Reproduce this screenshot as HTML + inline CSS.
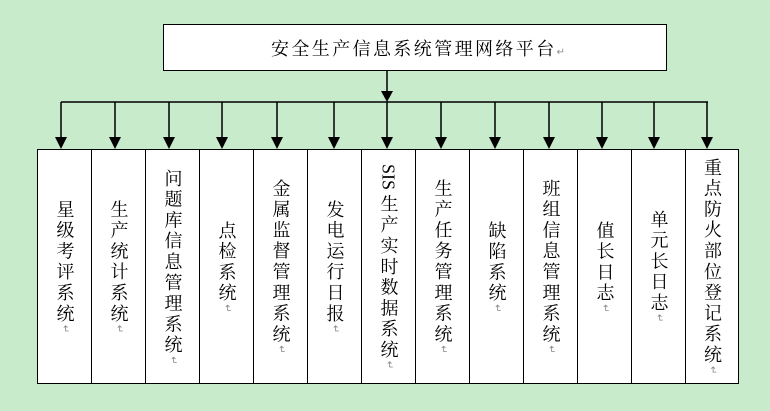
<!DOCTYPE html>
<html><head><meta charset="utf-8"><style>
html,body{margin:0;padding:0;}
body{width:770px;height:411px;background:#c8ebcc;position:relative;overflow:hidden;font-family:"Liberation Serif","Noto Serif CJK SC","Noto Sans CJK SC",serif;}
.top{position:absolute;left:163px;top:24px;width:502px;height:45px;border:1.5px solid #000;background:#fff;box-sizing:content-box;}
.top .t{position:absolute;left:107px;top:10px;font-size:18px;letter-spacing:2.4px;color:#000;white-space:nowrap;}
.m{color:#888;font-size:10px;letter-spacing:0;}
.col{position:absolute;top:149px;height:233px;width:53px;border:1.5px solid #000;border-right:none;background:#fff;display:flex;align-items:center;justify-content:center;}
.col.last{border-right:1.5px solid #000;}
.col div{writing-mode:vertical-rl;font-size:18px;letter-spacing:2.8px;line-height:20px;color:#000;}
.s{letter-spacing:0;}
svg{position:absolute;left:0;top:0;}
</style></head><body>
<div class="top"><span class="t">安全生产信息系统管理网络平台<span class="m">↵</span></span></div>
<svg width="770" height="411">
<g stroke="#000" stroke-width="1.5" fill="#000">
<line x1="387" y1="71" x2="387" y2="92"/>
<line x1="61" y1="102" x2="708" y2="102"/>
</g>
</svg>
<div class="col" style="left:37px"><div>星级考评系统<span class="m">↵</span></div></div>
<div class="col" style="left:91px"><div>生产统计系统<span class="m">↵</span></div></div>
<div class="col" style="left:145px"><div>问题库信息管理系统<span class="m">↵</span></div></div>
<div class="col" style="left:199px"><div>点检系统<span class="m">↵</span></div></div>
<div class="col" style="left:253px"><div>金属监督管理系统<span class="m">↵</span></div></div>
<div class="col" style="left:307px"><div>发电运行日报<span class="m">↵</span></div></div>
<div class="col" style="left:361px"><div><span class="s">SIS </span>生产实时数据系统<span class="m">↵</span></div></div>
<div class="col" style="left:415px"><div>生产任务管理系统<span class="m">↵</span></div></div>
<div class="col" style="left:469px"><div>缺陷系统<span class="m">↵</span></div></div>
<div class="col" style="left:523px"><div>班组信息管理系统<span class="m">↵</span></div></div>
<div class="col" style="left:577px"><div>值长日志<span class="m">↵</span></div></div>
<div class="col" style="left:631px"><div>单元长日志<span class="m">↵</span></div></div>
<div class="col last" style="left:685px;width:52px"><div>重点防火部位登记系统<span class="m">↵</span></div></div>
<svg width="770" height="411" style="pointer-events:none">
<g stroke="#000" stroke-width="1.5" fill="#000">
<polygon points="381,91 393,91 387,102" stroke="none"/>
<line x1="61" y1="102" x2="61" y2="138"/><polygon points="55,137 67,137 61,149" stroke="none"/>
<line x1="115" y1="102" x2="115" y2="138"/><polygon points="109,137 121,137 115,149" stroke="none"/>
<line x1="169" y1="102" x2="169" y2="138"/><polygon points="163,137 175,137 169,149" stroke="none"/>
<line x1="222" y1="102" x2="222" y2="138"/><polygon points="216,137 228,137 222,149" stroke="none"/>
<line x1="277" y1="102" x2="277" y2="138"/><polygon points="271,137 283,137 277,149" stroke="none"/>
<line x1="334" y1="102" x2="334" y2="138"/><polygon points="328,137 340,137 334,149" stroke="none"/>
<line x1="387" y1="102" x2="387" y2="138"/><polygon points="381,137 393,137 387,149" stroke="none"/>
<line x1="441" y1="102" x2="441" y2="138"/><polygon points="435,137 447,137 441,149" stroke="none"/>
<line x1="495" y1="102" x2="495" y2="138"/><polygon points="489,137 501,137 495,149" stroke="none"/>
<line x1="549" y1="102" x2="549" y2="138"/><polygon points="543,137 555,137 549,149" stroke="none"/>
<line x1="602" y1="102" x2="602" y2="138"/><polygon points="596,137 608,137 602,149" stroke="none"/>
<line x1="654" y1="102" x2="654" y2="138"/><polygon points="648,137 660,137 654,149" stroke="none"/>
<line x1="707" y1="102" x2="707" y2="138"/><polygon points="701,137 713,137 707,149" stroke="none"/>
</g>
</svg>
</body></html>
